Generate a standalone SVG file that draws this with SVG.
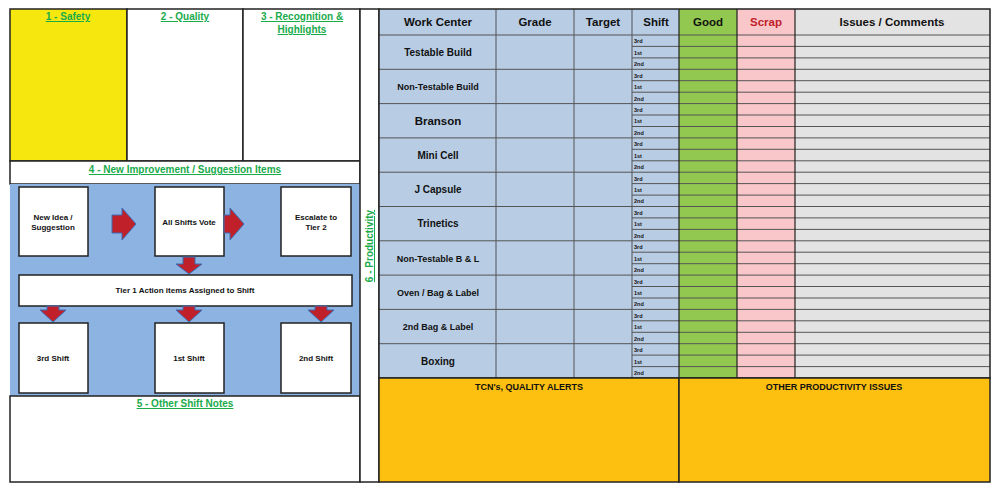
<svg xmlns="http://www.w3.org/2000/svg" width="1000" height="492" viewBox="0 0 1000 492">
<defs>
<style>
.b{stroke:#222;stroke-width:1.5}
.g{font-family:"Liberation Sans",Arial,sans-serif;font-weight:bold;fill:#1aab4b;text-decoration:underline;text-anchor:middle;font-size:10px}
.t{font-family:"Liberation Sans",Arial,sans-serif;font-weight:bold;fill:#111;text-anchor:middle;font-size:8px}
.h{font-family:"Liberation Sans",Arial,sans-serif;font-weight:bold;fill:#111;text-anchor:middle;font-size:11.5px}
.s{font-family:"Liberation Sans",Arial,sans-serif;font-weight:bold;fill:#111;font-size:5.5px}
.c{stroke:#555;stroke-width:1}
.ar{fill:#c0202a;stroke:#3a6db5;stroke-width:1}
</style>
</defs>
<rect width="1000" height="492" fill="#fff"/>
<g id="safety"><rect x="10" y="9" width="117" height="152" fill="#f6e80f" class="b"/><text x="68" y="20" class="g">1 - Safety</text></g>
<g id="quality"><rect x="127" y="9" width="116" height="152" fill="#fff" class="b"/><text x="185" y="20" class="g">2 - Quality</text></g>
<g id="recognition"><rect x="243" y="9" width="117" height="152" fill="#fff" class="b"/><text x="302" y="20" class="g">3 - Recognition &amp;</text><text x="302" y="33" class="g">Highlights</text></g>
<g id="improvement"><rect x="10" y="161" width="350" height="23" fill="#fff" class="b"/><text x="185" y="173" class="g">4 - New Improvement / Suggestion Items</text></g>
<rect x="10" y="184" width="350" height="212" fill="#8db3e2"/>
<g id="notes"><rect x="10" y="396" width="350" height="86" fill="#fff" class="b"/><text x="185" y="407" class="g">5 - Other Shift Notes</text></g>
<g id="productivity"><rect x="360" y="9" width="19" height="473" fill="#fff" class="b"/><text transform="translate(373,246) rotate(-90)" class="g">6 - Productivity</text></g>
<g id="newidea"><rect x="19" y="187" width="69" height="69" fill="#fff" class="b"/><text x="53" y="220" class="t">New Idea /</text><text x="53" y="230" class="t">Suggestion</text></g>
<g id="vote"><rect x="155" y="187" width="69" height="69" fill="#fff" class="b"/><text x="189" y="225" class="t">All Shifts Vote</text></g>
<g id="escalate"><rect x="281" y="187" width="70" height="69" fill="#fff" class="b"/><text x="316" y="220" class="t">Escalate to</text><text x="316" y="230" class="t">Tier 2</text></g>
<g id="tier1"><rect x="19" y="275" width="333" height="31" fill="#fff" class="b"/><text x="185" y="293" class="t">Tier 1 Action items Assigned to Shift</text></g>
<g id="s3"><rect x="19" y="323" width="69" height="70" fill="#fff" class="b"/><text x="53" y="361" class="t">3rd Shift</text></g>
<g id="s1"><rect x="155" y="323" width="69" height="70" fill="#fff" class="b"/><text x="189" y="361" class="t">1st Shift</text></g>
<g id="s2"><rect x="281" y="323" width="70" height="70" fill="#fff" class="b"/><text x="316" y="361" class="t">2nd Shift</text></g>
<g id="connectors">
<path class="ar" d="M112,215h10v-7l14,16l-14,16v-7h-10z"/>
<path class="ar" d="M224,215h6v-7l14,16l-14,16v-7h-6z"/>
<path class="ar" d="M183,257h12v7h7l-13,10l-13,-10h7z"/>
<path class="ar" d="M47,306h12v4h7l-13,12l-13,-12h7z"/>
<path class="ar" d="M183,306h12v4h7l-13,12l-13,-12h7z"/>
<path class="ar" d="M315,306h12v4h7l-13,12l-13,-12h7z"/>
</g>
<g id="table">
<rect x="379" y="9" width="300" height="369" fill="#b8cce4"/>
<rect x="679" y="9" width="58" height="369" fill="#92c84f"/>
<rect x="737" y="9" width="58" height="369" fill="#f9c6c9"/>
<rect x="795" y="9" width="195" height="369" fill="#e3e3e3"/>
<g class="c" fill="none">
<path d="M632,35h358"/>
<path d="M632,46.4h358M632,57.9h358M632,80.7h358M632,92.2h358M632,115h358M632,126.5h358M632,149.3h358M632,160.8h358M632,183.6h358M632,195.1h358M632,217.9h358M632,229.4h358M632,252.2h358M632,263.7h358M632,286.5h358M632,298h358M632,320.8h358M632,332.3h358M632,355.1h358M632,366.6h358"/>
<path d="M379,69.3h611M379,103.6h611M379,137.9h611M379,172.2h611M379,206.5h611M379,240.8h611M379,275.1h611M379,309.4h611M379,343.7h611"/>
<path d="M379,35h253M496,9v369M574,9v369M632,9v369"/>
</g>
<path d="M679,9v369M737,9v369M795,9v369" stroke="#222" stroke-width="1.2"/>
<rect x="379" y="9" width="611" height="369" fill="none" class="b"/>
<text x="438" y="26" class="h">Work Center</text><text x="535" y="26" class="h">Grade</text><text x="603" y="26" class="h">Target</text><text x="656" y="26" class="h">Shift</text><text x="708" y="26" class="h">Good</text><text x="766" y="26" class="h" fill="#c0202a" style="fill:#c0202a">Scrap</text><text x="892" y="26" class="h">Issues / Comments</text>
<g font-size="10px">
<text x="438" y="56" class="h" style="font-size:10px">Testable Build</text>
<text x="438" y="90" class="h" style="font-size:9px">Non-Testable Build</text>
<text x="438" y="125" class="h">Branson</text>
<text x="438" y="159" class="h" style="font-size:10px">Mini Cell</text>
<text x="438" y="193" class="h" style="font-size:10px">J Capsule</text>
<text x="438" y="227" class="h" style="font-size:10px">Trinetics</text>
<text x="438" y="262" class="h" style="font-size:9px">Non-Testable B &amp; L</text>
<text x="438" y="296" class="h" style="font-size:9px">Oven / Bag &amp; Label</text>
<text x="438" y="330" class="h" style="font-size:9px">2nd Bag &amp; Label</text>
<text x="438" y="365" class="h" style="font-size:10px">Boxing</text>
</g>
<g class="s">
<text x="634" y="43">3rd</text><text x="634" y="55">1st</text><text x="634" y="66">2nd</text>
<text x="634" y="78">3rd</text><text x="634" y="89">1st</text><text x="634" y="101">2nd</text>
<text x="634" y="112">3rd</text><text x="634" y="123">1st</text><text x="634" y="135">2nd</text>
<text x="634" y="146">3rd</text><text x="634" y="158">1st</text><text x="634" y="169">2nd</text>
<text x="634" y="181">3rd</text><text x="634" y="192">1st</text><text x="634" y="203">2nd</text>
<text x="634" y="215">3rd</text><text x="634" y="226">1st</text><text x="634" y="238">2nd</text>
<text x="634" y="249">3rd</text><text x="634" y="261">1st</text><text x="634" y="272">2nd</text>
<text x="634" y="284">3rd</text><text x="634" y="295">1st</text><text x="634" y="306">2nd</text>
<text x="634" y="318">3rd</text><text x="634" y="329">1st</text><text x="634" y="341">2nd</text>
<text x="634" y="352">3rd</text><text x="634" y="364">1st</text><text x="634" y="375">2nd</text>
</g>
</g>
<g id="tcn"><rect x="379" y="378" width="300" height="104" fill="#fdc010" class="b"/><text x="529" y="390" class="t" style="font-size:9px">TCN's, QUALITY ALERTS</text></g>
<g id="other"><rect x="679" y="378" width="311" height="104" fill="#fdc010" class="b"/><text x="834" y="390" class="t" style="font-size:9px">OTHER PRODUCTIVITY ISSUES</text></g>
</svg>
